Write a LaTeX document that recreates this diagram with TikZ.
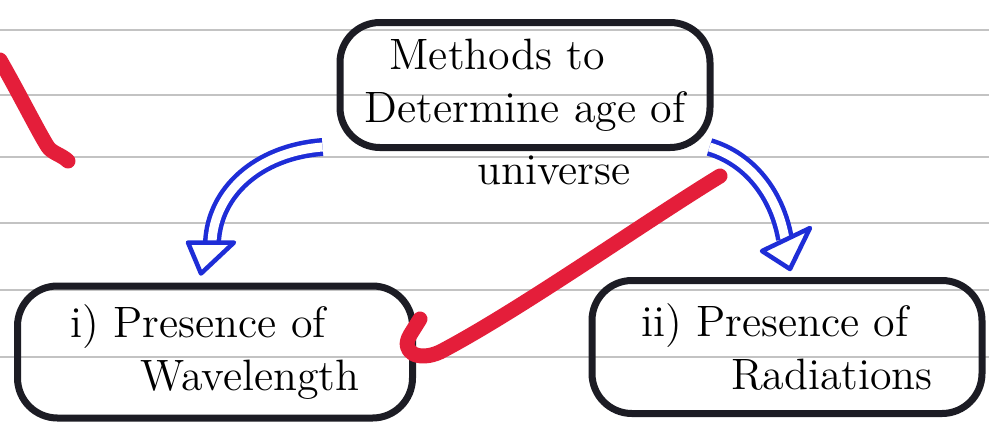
\documentclass[tikz,border=0pt]{standalone}
\usepackage{tikz}
\definecolor{inkblack}{RGB}{28,28,36}
\definecolor{penblue}{RGB}{30,45,215}
\definecolor{markred}{RGB}{228,30,58}
\definecolor{ruleline}{RGB}{195,195,195}

\begin{document}
\begin{tikzpicture}[
  x=0.1mm, y=-0.1mm,
  box/.style={
    draw=inkblack,
    line width=0.7mm,
    rounded corners=4mm,
    align=left,
    inner sep=0pt,
    font=\fontsize{12.5}{15}\selectfont
  },
  shaft/.style={draw=penblue,line width=0.45mm,double=white,double distance=0.9mm},
  head/.style={draw=penblue,line width=0.45mm,line join=round,fill=white},
  redstroke/.style={draw=markred,line width=1.5mm,line cap=round,line join=round},
  ruled/.style={draw=ruleline,line width=0.12mm}
]
\useasboundingbox (0,0) rectangle (989,423);
\fill[white] (0,0) rectangle (989,423);
% ruled paper
\foreach \y in {30,95,157,223,290,357}
  \draw[ruled] (0,\y) -- (989,\y);

\node[box,minimum width=37mm,minimum height=12.5mm] (methods) at (525,85)
  {\hspace*{2.5mm}Methods to\\Determine age of};
\node[font=\fontsize{12.5}{15}\selectfont] (universe) at (554,170) {universe};
\node[box,minimum width=39.5mm,minimum height=13.2mm] (wave) at (215,352)
  {i) Presence of\\\hspace*{7mm}Wavelength};
\node[box,minimum width=39mm,minimum height=13.3mm] (rad) at (787,347)
  {ii) Presence of\\\hspace*{9mm}Radiations};

% blue arrows
\coordinate (lh) at ([shift={(-3,-40)}]wave.north);
\coordinate (rh) at ([shift={(-2,-38)}]rad.north);
\draw[shaft] ([shift={(-14,-4)}]methods.south west) .. controls +(-65,5) and +(2,-50) .. (lh);
\draw[head] (lh) ++(-24,0) -- ++(46,0) -- ++(-33,31) -- cycle;
\draw[shaft] ([shift={(-4,-4)}]methods.south east) .. controls +(40,12) and +(-8,-45) .. (rh);
\draw[head] (rh) ++(-23,12) -- ++(48,-23) -- ++(-20,41) -- cycle;

% red marks
\draw[redstroke] (0,60) .. controls (20,95) and (40,135) .. (48,147)
  .. controls (52,153) and (62,155) .. (68,161);
\draw[redstroke] (720,176) .. controls (640,225) and (520,310) .. (440,352)
  .. controls (418,362) and (400,352) .. (410,335) -- (420,319);
\end{tikzpicture}
\end{document}
